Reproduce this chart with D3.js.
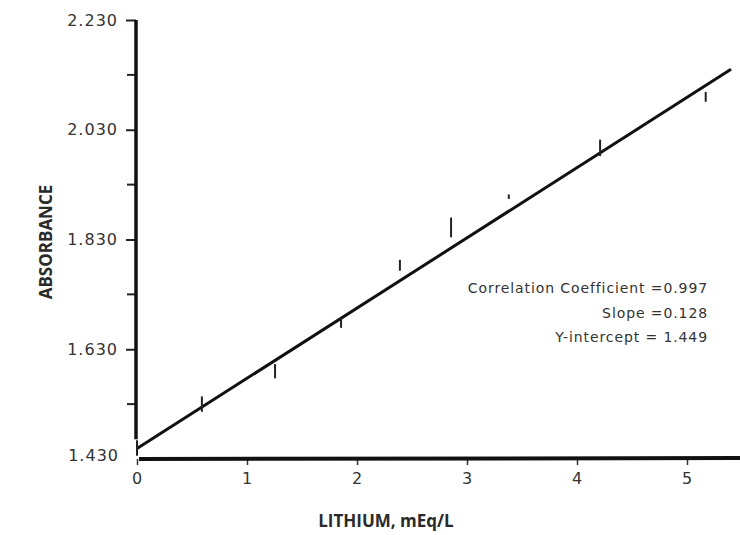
<!DOCTYPE html>
<html>
<head>
<meta charset="utf-8">
<script src="https://cdn.jsdelivr.net/npm/d3@7"></script>
<style>
  body { margin: 0; background: #fff; }
  .tick text { font-family: "DejaVu Sans", sans-serif; fill: #333; letter-spacing: 1px; }
  .title { font-family: "Open Sans", sans-serif; font-weight: 700; fill: #2a2a2a; }
  .note { font-family: "DejaVu Sans", sans-serif; fill: #333; font-size: 14px; letter-spacing: 0.9px; }
</style>
</head>
<body>
<svg id="chart"></svg>
<script>
// readings
var lithium    = [0, 0.59, 1.255, 1.855, 2.39, 2.855, 3.38, 4.21, 5.17];
var absorbance = [1.450, 1.530, 1.590, 1.679, 1.783, 1.852, 1.908, 1.997, 2.090];
var spread     = [0.014, 0.014, 0.013, 0.010, 0.010, 0.018, 0.004, 0.015, 0.009];

var yMajor = [1.430, 1.630, 1.830, 2.030, 2.230];
var yMinor = [1.530, 1.730, 1.930, 2.130];
var xTicks = [0, 1, 2, 3, 4, 5];

var slope = 0.128, intercept = 1.449, lineEnd = 5.4;
var notes = ["Correlation Coefficient =0.997", "Slope =0.128", "Y-intercept = 1.449"];

var width = 740, height = 535;

var svg = d3.select("#chart")
    .attr("width", width)
    .attr("height", height);

var x = d3.scaleLinear().domain([0, 5]).range([137, 687]);
var y = d3.scaleLinear().domain([1.430, 2.230]).range([459, 20]);

// y axis
var yAxis = svg.append("g")
    .attr("transform", "translate(136,0)")
    .call(d3.axisLeft(y).tickValues(yMajor.slice(1)).tickSize(10).tickPadding(8)
        .tickFormat(d3.format(".3f")));
yAxis.select(".domain").remove();
yAxis.selectAll("line").attr("stroke", "#222").attr("stroke-width", 2);
yAxis.selectAll("text").attr("font-size", 16);

svg.append("g")
    .attr("transform", "translate(136,0)")
    .selectAll("line")
    .data(yMinor)
    .enter().append("line")
    .attr("x1", -9).attr("x2", 0)
    .attr("y1", function(d) { return y(d); })
    .attr("y2", function(d) { return y(d); })
    .attr("stroke", "#222").attr("stroke-width", 2);

svg.append("line")
    .attr("x1", 136).attr("x2", 136)
    .attr("y1", y(2.230)).attr("y2", y(1.466))
    .attr("stroke", "#111").attr("stroke-width", 3.5);

svg.append("text")
    .attr("x", 119).attr("y", y(1.430) - 3)
    .attr("text-anchor", "end")
    .attr("dominant-baseline", "middle")
    .attr("font-family", "DejaVu Sans, sans-serif")
    .attr("letter-spacing", "1px")
    .attr("font-size", 16).attr("fill", "#333")
    .text(d3.format(".3f")(yMajor[0]));

// x axis
var xAxis = svg.append("g")
    .attr("transform", "translate(0," + y(1.430) + ")")
    .call(d3.axisBottom(x).tickValues(xTicks).tickSize(6).tickPadding(8)
        .tickFormat(d3.format("d")));
xAxis.select(".domain").remove();
xAxis.selectAll("line").attr("stroke", "#333").attr("stroke-width", 1.5);
xAxis.selectAll("text").attr("font-size", 16).attr("letter-spacing", "0px");

svg.append("line")
    .attr("x1", 139).attr("x2", width)
    .attr("y1", y(1.430)).attr("y2", y(1.430) - 1)
    .attr("stroke", "#111").attr("stroke-width", 4);

// regression line
svg.append("line")
    .attr("x1", x(0)).attr("y1", y(intercept))
    .attr("x2", x(lineEnd)).attr("y2", y(intercept + slope * lineEnd))
    .attr("stroke", "#111").attr("stroke-width", 3);

// data marks
svg.selectAll(".mark")
    .data(lithium)
    .enter().append("line")
    .attr("class", "mark")
    .attr("x1", function(d) { return x(d); })
    .attr("x2", function(d) { return x(d); })
    .attr("y1", function(d, i) { return y(absorbance[i] + spread[i]); })
    .attr("y2", function(d, i) { return y(absorbance[i] - spread[i]); })
    .attr("stroke", "#222").attr("stroke-width", 2);

// fit notes
svg.selectAll(".note")
    .data(notes)
    .enter().append("text")
    .attr("class", "note")
    .attr("x", 708)
    .attr("y", function(d, i) { return 293 + i * 24.5; })
    .attr("text-anchor", "end")
    .text(function(d) { return d; });

// titles
svg.append("text")
    .attr("class", "title")
    .attr("transform", "translate(52,242) rotate(-90)")
    .attr("text-anchor", "middle")
    .attr("font-size", 17)
    .text("ABSORBANCE");

svg.append("text")
    .attr("class", "title")
    .attr("x", 386).attr("y", 527)
    .attr("text-anchor", "middle")
    .attr("font-size", 17)
    .text("LITHIUM, mEq/L");
</script>
</body>
</html>
